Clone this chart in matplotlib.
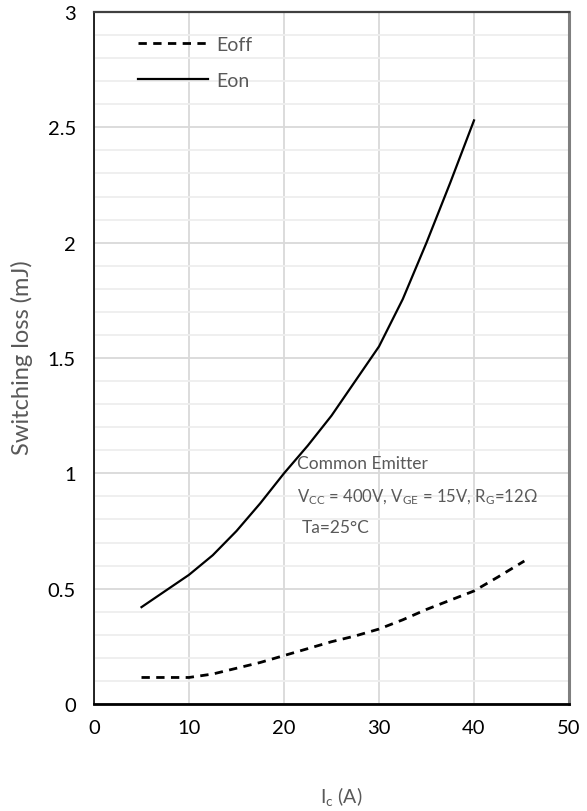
import matplotlib
matplotlib.use("Agg")
import matplotlib.pyplot as plt
from matplotlib.ticker import MultipleLocator

plt.rcParams['font.family'] = ['Lato', 'DejaVu Sans']
plt.rcParams['mathtext.fontset'] = 'custom'
plt.rcParams['mathtext.rm'] = 'Lato'
plt.rcParams['mathtext.it'] = 'Lato'

# Data
eon_ic = [5, 7.5, 10, 12.5, 15, 17.5, 20, 22.5, 25, 27.5, 30, 32.5, 35, 37.5, 40]
eon_loss = [0.42, 0.49, 0.56, 0.645, 0.75, 0.87, 1.0, 1.12, 1.25, 1.40, 1.55, 1.755, 2.0, 2.26, 2.53]

eoff_ic = [5, 7.5, 10, 12.5, 15, 17.5, 20, 22.5, 25, 27.5, 30, 32.5, 35, 37.5, 40, 42.5, 45.3]
eoff_loss = [0.115, 0.115, 0.115, 0.13, 0.155, 0.18, 0.21, 0.24, 0.27, 0.295, 0.325,
             0.365, 0.41, 0.45, 0.49, 0.55, 0.62]

x_ticks = [0, 10, 20, 30, 40, 50]
y_ticks = [0, 0.5, 1, 1.5, 2, 2.5, 3]
y_tick_labels = ["0", "0.5", "1", "1.5", "2", "2.5", "3"]

fig = plt.figure(figsize=(5.87, 8.12), dpi=100)
ax = fig.add_axes([94/587, 1 - 705/812, 475/587, 692/812])

ax.set_xlim(0, 50)
ax.set_ylim(0, 3)
ax.set_xticks(x_ticks)
ax.set_yticks(y_ticks)
ax.set_yticklabels(y_tick_labels)
ax.yaxis.set_minor_locator(MultipleLocator(0.1))

ax.grid(True, which='major', axis='both', color='#d9d9d9', lw=1.3, zorder=0)
ax.grid(True, which='minor', axis='y', color='#eeeeee', lw=1.3, zorder=0)
ax.set_axisbelow(True)

ax.tick_params(axis='both', which='both', length=0)
ax.tick_params(axis='x', pad=11, labelsize=14.5, labelcolor='black')
ax.tick_params(axis='y', pad=13, labelsize=14.5, labelcolor='black')

ax.spines['left'].set_color('black')
ax.spines['left'].set_linewidth(1.2)
ax.spines['bottom'].set_color('black')
ax.spines['bottom'].set_linewidth(2.0)
ax.spines['top'].set_color('#404040')
ax.spines['top'].set_linewidth(1.6)
ax.spines['right'].set_color('#7f7f7f')
ax.spines['right'].set_linewidth(2.2)

l_off, = ax.plot(eoff_ic, eoff_loss, color='black', lw=2.0,
                 linestyle=(0, (3, 2.3)), label='Eoff', zorder=3)
l_on, = ax.plot(eon_ic, eon_loss, color='black', lw=1.6,
                label='Eon', zorder=3)

leg = ax.legend(handles=[l_off, l_on], loc='upper left',
                bbox_to_anchor=(0.093, 0.965), frameon=False,
                borderpad=0, borderaxespad=0, handlelength=3.6,
                handletextpad=0.4, labelspacing=0.97, fontsize=14)
for t in leg.get_texts():
    t.set_color('#595959')

txt_color = '#595959'
ax.text(21.4, 1.045, "Common Emitter", color=txt_color, fontsize=12.5,
        va='center', ha='left', zorder=4)
ax.text(21.4, 0.90, r"V$_{\mathrm{CC}}$ = 400V, V$_{\mathrm{GE}}$ = 15V, R$_{\mathrm{G}}$=12Ω",
        color=txt_color, fontsize=12, va='center', ha='left', zorder=4)
ax.text(21.9, 0.767, "Ta=25°C", color=txt_color, fontsize=12.5,
        va='center', ha='left', zorder=4)

fig.text(22/587, 1 - 358/812, "Switching loss (mJ)", rotation=90,
         color='#595959', fontsize=17, ha='center', va='center')
fig.text(341/587, 1 - 797/812, r"I$_{\mathrm{c}}$ (A)", color='#595959',
         fontsize=14, ha='center', va='center')

fig.savefig("out.png", dpi=100)
